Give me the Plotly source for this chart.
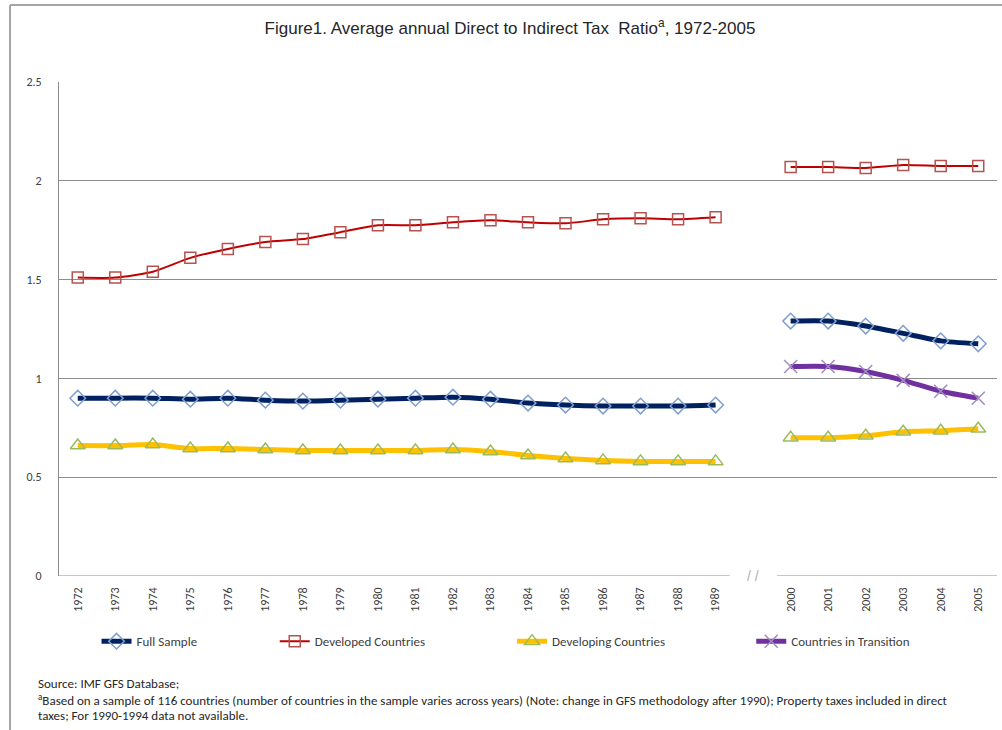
import plotly.graph_objects as go

years_early = [str(y) for y in range(1972, 1990)]
years_late = [str(y) for y in range(2000, 2006)]
gap_label = " "
categories = years_early + [gap_label] + years_late

full_early = [0.90, 0.90, 0.90, 0.895, 0.90, 0.89, 0.885, 0.89, 0.895, 0.90, 0.905, 0.895, 0.875, 0.865, 0.86, 0.86, 0.86, 0.865]
full_late = [1.29, 1.29, 1.265, 1.228, 1.19, 1.175]
dev_early = [1.51, 1.51, 1.54, 1.61, 1.655, 1.69, 1.705, 1.74, 1.775, 1.775, 1.79, 1.80, 1.79, 1.785, 1.805, 1.81, 1.805, 1.815]
dev_late = [2.07, 2.07, 2.065, 2.08, 2.075, 2.075]
devg_early = [0.66, 0.66, 0.665, 0.645, 0.645, 0.64, 0.635, 0.635, 0.635, 0.635, 0.64, 0.63, 0.61, 0.595, 0.585, 0.58, 0.58, 0.58]
devg_late = [0.70, 0.70, 0.71, 0.73, 0.735, 0.745]
trans_late = [1.06, 1.06, 1.035, 0.99, 0.935, 0.90]

y_ticks = [0, 0.5, 1, 1.5, 2, 2.5]
y_ticktext = ["0", "0.5", "1", "1.5", "2", "2.5"]

title_text = "Figure1. Average annual Direct to Indirect Tax  Ratio<sup>a</sup>, 1972-2005"
source_text = "Source: IMF GFS Database;"
note_line1 = ("<sup>a</sup>Based on a sample of 116 countries (number of countries in the sample varies across years) "
              "(Note: change in GFS methodology after 1990); Property taxes included in direct")
note_line2 = "taxes; For 1990-1994 data not available."

LABEL_FONT = "Calibri, Carlito, Lato, sans-serif"

def joined(early, late):
    return early + [None] + late

series = [
    dict(name="Full Sample", y=joined(full_early, full_late), line=dict(color="#002060", width=5),
         marker=dict(symbol="diamond-open", size=12, color="#7f9fcf", line=dict(width=1.5, color="#7f9fcf")),
         legend="legend", lx=0.040),
    dict(name="Developed Countries", y=joined(dev_early, dev_late), line=dict(color="#c00000", width=2),
         marker=dict(symbol="square-open", size=11, color="#b5534f", line=dict(width=1.5, color="#b5534f")),
         legend="legend2", lx=0.230),
    dict(name="Developing Countries", y=joined(devg_early, devg_late), line=dict(color="#ffc000", width=5),
         marker=dict(symbol="triangle-up-open", size=13, color="#9bbb59", line=dict(width=1.5, color="#9bbb59")),
         legend="legend3", lx=0.483),
    dict(name="Countries in Transition", y=[None] * (len(years_early) + 1) + trans_late,
         line=dict(color="#7030a0", width=5),
         marker=dict(symbol="x-thin-open", size=13, color="#a08cc0", line=dict(width=1.5, color="#a08cc0")),
         legend="legend4", lx=0.738),
]

fig = go.Figure()
for s in series:
    fig.add_trace(go.Scatter(
        x=categories, y=s["y"], name=s["name"], mode="lines+markers",
        line=dict(color=s["line"]["color"], width=s["line"]["width"], shape="spline", smoothing=0.6),
        marker=s["marker"], connectgaps=False, legend=s["legend"],
    ))

legend_common = dict(orientation="h", yanchor="middle", y=-0.132, xanchor="left",
                     font=dict(family=LABEL_FONT, size=13, color="#404040"),
                     bgcolor="rgba(0,0,0,0)", itemwidth=30)
layout_legends = {}
for i, s in enumerate(series):
    key = "legend" if i == 0 else f"legend{i + 1}"
    layout_legends[key] = dict(legend_common, x=s["lx"])

fig.update_layout(
    width=1002, height=730,
    margin=dict(l=59, r=5, t=82, b=154),
    paper_bgcolor="white", plot_bgcolor="white",
    showlegend=True,
    title=dict(text=title_text, x=0.509, xref="container", xanchor="center",
               y=1 - 28 / 730, yref="container", yanchor="middle",
               font=dict(family="Liberation Sans Narrow, Arial Narrow, Liberation Sans, sans-serif",
                         size=17, color="#262626")),
    xaxis=dict(type="category", categoryorder="array", categoryarray=categories,
               tickangle=-90, showgrid=False, showline=False, zeroline=False, ticks="",
               ticklabelstandoff=8,
               tickfont=dict(family=LABEL_FONT, size=12, color="#404040"),
               range=[-0.5, len(categories) - 0.5]),
    yaxis=dict(range=[0, 2.5], tickvals=y_ticks, ticktext=y_ticktext,
               showgrid=True, gridcolor="#8c8c8c", gridwidth=1,
               showline=True, linecolor="#8c8c8c", linewidth=1,
               zeroline=False, ticks="", ticklabelstandoff=14,
               tickfont=dict(family=LABEL_FONT, size=12, color="#404040")),
    **layout_legends,
)

gap_index = categories.index(gap_label)
# broken horizontal axis line
fig.add_shape(type="line", xref="x", yref="y", x0=-0.5, x1=gap_index - 0.62, y0=0, y1=0,
              line=dict(color="#8c8c8c", width=1))
fig.add_shape(type="line", xref="x", yref="y", x0=gap_index + 0.64, x1=len(categories) - 0.5, y0=0, y1=0,
              line=dict(color="#8c8c8c", width=1))
fig.add_annotation(x=gap_index, y=0, xref="x", yref="y", text="/ /", showarrow=False,
                   font=dict(family="Liberation Sans", size=14, color="#b0b0b0"))

# outer frame (top and left edges)
fig.add_shape(type="line", xref="paper", yref="paper",
              x0=(10 - 59) / 938, x1=(1002 - 59) / 938, y0=(576 - 5) / 494, y1=(576 - 5) / 494,
              line=dict(color="#a6a6a6", width=2))
fig.add_shape(type="line", xref="paper", yref="paper",
              x0=(10 - 59) / 938, x1=(10 - 59) / 938, y0=(576 - 5) / 494, y1=(576 - 732) / 494,
              line=dict(color="#a6a6a6", width=2))

note_font = dict(family=LABEL_FONT, size=13, color="#262626")
for txt, ypx in [(source_text, 683), (note_line1, 699), (note_line2, 715)]:
    fig.add_annotation(x=(36 - 59) / 938, y=(576 - ypx) / 494, xref="paper", yref="paper",
                       xanchor="left", yanchor="middle", align="left", text=txt,
                       showarrow=False, font=note_font)

fig.write_html("out.html")
